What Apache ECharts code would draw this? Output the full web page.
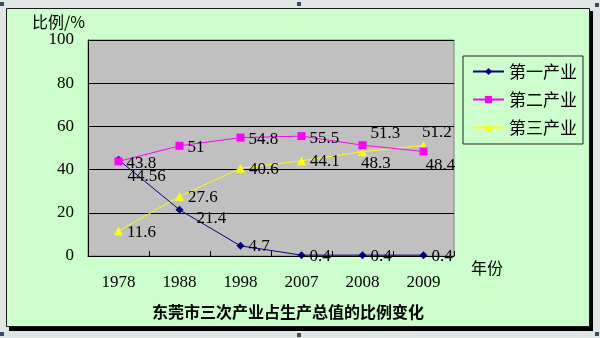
<!DOCTYPE html>
<html><head><meta charset="utf-8">
<script src="https://cdn.jsdelivr.net/npm/echarts@6/dist/echarts.min.js"></script>
<style>html,body{margin:0;padding:0;background:#dfe6e4}#c{width:600px;height:338px}</style>
</head><body><div id="c"></div>
<script>
var years = ['1978','1988','1998','2007','2008','2009'];
var primary = [44.56, 21.4, 4.7, 0.4, 0.4, 0.4];
var secondary = [43.8, 51, 54.8, 55.5, 51.3, 48.4];
var tertiary = [11.6, 27.6, 40.6, 44.1, 48.3, 51.2];
var seriesNames = ['第一产业','第二产业','第三产业'];
var yTicks = [0, 20, 40, 60, 80, 100];

var numFont = 'Liberation Serif';
var cjk = '"Noto Sans CJK SC"';

// per-point label offsets (index -> [dx, dy])
var offP = {0: [1, 17], 1: [9, 9]};
var offS = {0: [0, 2], 1: [0, 2], 2: [0, 2], 3: [0, 2], 4: [0, -12], 5: [-6, 14]};
var offT = {0: [0, 2], 4: [-10, 12], 5: [-10, -13]};

function mk(vals, offs) {
  return vals.map(function (v, i) {
    var o = offs[i] || [0, 1];
    return { value: v, label: { offset: o } };
  });
}

var chart = echarts.init(document.getElementById('c'), null, {renderer: 'canvas'});
chart.setOption({
  backgroundColor: '#dfe6e4',
  animation: false,
  graphic: [
    {type: 'rect', z: -100, shape: {x: 9, y: 11, width: 584, height: 320}, style: {fill: '#000'}},
    {type: 'rect', z: -99, shape: {x: 6.5, y: 8.5, width: 583, height: 318}, style: {fill: '#ccffcc', stroke: '#1a1a1a', lineWidth: 1}},
    {type: 'rect', z: -98, shape: {x: 0, y: 2, width: 4, height: 4}, style: {fill: '#2f4f6f'}},
    {type: 'rect', z: -98, shape: {x: 297, y: 2, width: 4, height: 4}, style: {fill: '#2f4f6f'}},
    {type: 'rect', z: -98, shape: {x: 595, y: 3, width: 4, height: 4}, style: {fill: '#2f4f6f'}},
    {type: 'rect', z: -98, shape: {x: 595, y: 332, width: 4, height: 4}, style: {fill: '#2f4f6f'}},
    {type: 'rect', z: -98, shape: {x: 0, y: 332, width: 4, height: 4}, style: {fill: '#2f4f6f'}},
    {type: 'rect', z: -98, shape: {x: 297, y: 333, width: 4, height: 4}, style: {fill: '#2f4f6f'}},
    {type: 'text', left: 32, top: 14, style: {text: '比例/%', font: '16px ' + cjk, fill: '#000'}},
    {type: 'text', left: 471, top: 260, style: {text: '年份', font: '16px ' + cjk, fill: '#000'}}
  ],
  title: {
    text: '东莞市三次产业占生产总值的比例变化',
    left: 147, top: 299,
    textStyle: {fontSize: 16, fontWeight: 'bold', fontFamily: cjk, color: '#000'}
  },
  legend: {
    data: seriesNames,
    orient: 'vertical',
    left: 463, top: 56,
    width: 121,
    padding: [7, 6, 8, 9],
    itemGap: 11,
    itemWidth: 31, itemHeight: 9,
    backgroundColor: '#ccffcc',
    borderColor: '#222', borderWidth: 1,
    textStyle: {fontSize: 17, fontFamily: cjk, color: '#000', padding: [0, 0, 0, 0]}
  },
  grid: {
    show: true, left: 88, top: 40, right: 146, bottom: 82,
    backgroundColor: '#c0c0c0', borderColor: '#808080', borderWidth: 1
  },
  xAxis: {
    type: 'category', data: years, boundaryGap: true,
    axisLine: {lineStyle: {color: '#000', width: 1}},
    axisTick: {show: true, inside: true, length: 5, lineStyle: {color: '#000'}},
    axisLabel: {fontSize: 17, fontFamily: numFont, color: '#000', margin: 18}
  },
  yAxis: {
    type: 'value', min: yTicks[0], max: yTicks[yTicks.length - 1], interval: 20,
    axisLine: {show: true, lineStyle: {color: '#000', width: 1}},
    axisTick: {show: false},
    splitLine: {lineStyle: {color: '#000', width: 1}},
    axisLabel: {fontSize: 17, fontFamily: numFont, color: '#000', margin: 14}
  },
  series: [
    {
      name: seriesNames[0], type: 'line', data: mk(primary, offP),
      symbol: 'diamond', symbolSize: 8, z: 3,
      lineStyle: {color: '#000080', width: 1}, itemStyle: {color: '#000080'},
      label: {show: true, position: 'right', distance: 4, fontSize: 17, fontFamily: numFont, color: '#000'}
    },
    {
      name: seriesNames[1], type: 'line', data: mk(secondary, offS),
      symbol: 'rect', symbolSize: 8, z: 4,
      lineStyle: {color: '#ff00ff', width: 1}, itemStyle: {color: '#ff00ff'},
      label: {show: true, position: 'right', distance: 4, fontSize: 17, fontFamily: numFont, color: '#000'}
    },
    {
      name: seriesNames[2], type: 'line', data: mk(tertiary, offT),
      symbol: 'triangle', symbolSize: 9, z: 2,
      lineStyle: {color: '#ffff00', width: 1}, itemStyle: {color: '#ffff00'},
      label: {show: true, position: 'right', distance: 4, fontSize: 17, fontFamily: numFont, color: '#000'}
    }
  ]
});
</script></body></html>
